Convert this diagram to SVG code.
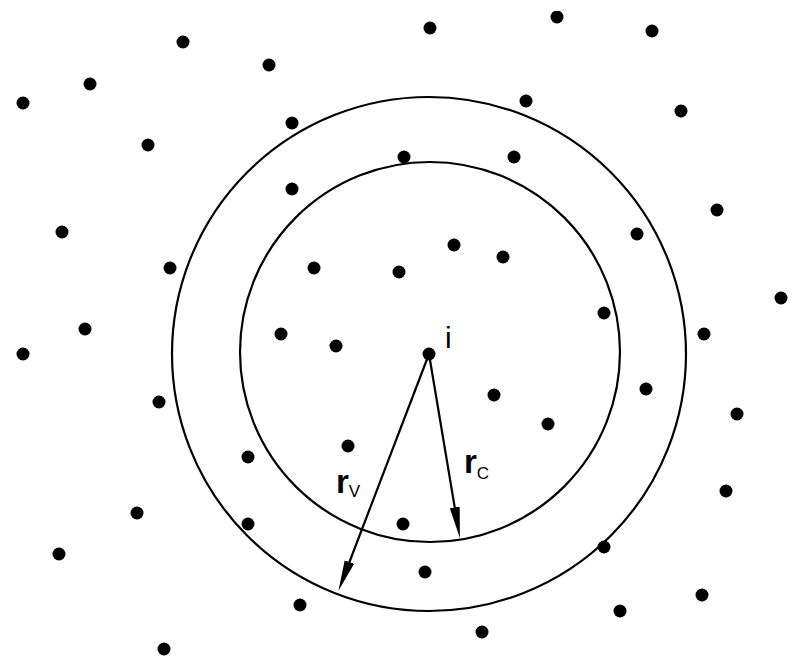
<svg xmlns="http://www.w3.org/2000/svg" width="802" height="660" viewBox="0 0 802 660">
<style>
.ring{fill:none;stroke:#000;stroke-width:2.2}
.dot{fill:#000}
.arr{stroke:#000;stroke-width:2.2;fill:none;marker-end:url(#head)}
.lbl{font-family:"Liberation Sans",Arial,sans-serif;fill:#000}
.b{font-weight:bold;font-size:33px}
.s{font-size:17px}
</style>
<defs>
<marker id="head" markerUnits="userSpaceOnUse" markerWidth="32" markerHeight="12" refX="16" refY="5" orient="auto">
<path d="M0,0 L31,5 L0,10 Z" fill="#000"/>
</marker>
<clipPath id="clipTop"><rect x="0" y="11" width="802" height="649"/></clipPath>
</defs>
<rect width="802" height="660" fill="#fff"/>
<g id="circles">
<circle id="outer" class="ring" cx="429" cy="354" r="257"/>
<circle id="inner" class="ring" cx="430" cy="352" r="190"/>
</g>
<g id="particles" class="dot">
<circle cx="557" cy="17" r="6.5" clip-path="url(#clipTop)"/>
<circle cx="430" cy="28" r="6.5"/>
<circle cx="652" cy="31" r="6.5"/>
<circle cx="183" cy="42" r="6.5"/>
<circle cx="269" cy="65" r="6.5"/>
<circle cx="90" cy="84" r="6.5"/>
<circle cx="23" cy="103" r="6.5"/>
<circle cx="526" cy="101" r="6.5"/>
<circle cx="292" cy="123" r="6.5"/>
<circle cx="681" cy="111" r="6.5"/>
<circle cx="148" cy="145" r="6.5"/>
<circle cx="404" cy="157" r="6.5"/>
<circle cx="514" cy="157" r="6.5"/>
<circle cx="292" cy="189" r="6.5"/>
<circle cx="717" cy="210" r="6.5"/>
<circle cx="62" cy="232" r="6.5"/>
<circle cx="637" cy="234" r="6.5"/>
<circle cx="454" cy="245" r="6.5"/>
<circle cx="503" cy="257" r="6.5"/>
<circle cx="170" cy="268" r="6.5"/>
<circle cx="314" cy="268" r="6.5"/>
<circle cx="399" cy="272" r="6.5"/>
<circle cx="781" cy="298" r="6.5"/>
<circle cx="604" cy="313" r="6.5"/>
<circle cx="281" cy="334" r="6.5"/>
<circle cx="336" cy="346" r="6.5"/>
<circle cx="85" cy="329" r="6.5"/>
<circle cx="23" cy="354" r="6.5"/>
<circle cx="704" cy="334" r="6.5"/>
<circle cx="646" cy="389" r="6.5"/>
<circle cx="494" cy="395" r="6.5"/>
<circle cx="159" cy="402" r="6.5"/>
<circle cx="548" cy="424" r="6.5"/>
<circle cx="737" cy="414" r="6.5"/>
<circle cx="348" cy="446" r="6.5"/>
<circle cx="248" cy="457" r="6.5"/>
<circle cx="726" cy="491" r="6.5"/>
<circle cx="137" cy="513" r="6.5"/>
<circle cx="248" cy="524" r="6.5"/>
<circle cx="403" cy="524" r="6.5"/>
<circle cx="604" cy="547" r="6.5"/>
<circle cx="59" cy="554" r="6.5"/>
<circle cx="425" cy="572" r="6.5"/>
<circle cx="300" cy="605" r="6.5"/>
<circle cx="702" cy="595" r="6.5"/>
<circle cx="620" cy="611" r="6.5"/>
<circle cx="482" cy="632" r="6.5"/>
<circle cx="164" cy="649" r="6.5"/>
</g>
<g id="node-i">
<circle class="dot" cx="429" cy="354" r="6.5"/>
<text class="lbl" x="445" y="348" font-size="30">i</text>
</g>
<g id="connectors">
<line id="rv-arrow" class="arr" x1="429" y1="354" x2="343.7" y2="577"/>
<line id="rc-arrow" class="arr" x1="429" y1="354" x2="457.4" y2="523.2"/>
</g>
<g id="label-rc">
<text class="lbl" x="464" y="473"><tspan class="b">r</tspan><tspan class="s" dy="6">C</tspan></text>
</g>
<g id="label-rv">
<text class="lbl" x="336" y="493"><tspan class="b">r</tspan><tspan class="s" dy="4">V</tspan></text>
</g>
</svg>
